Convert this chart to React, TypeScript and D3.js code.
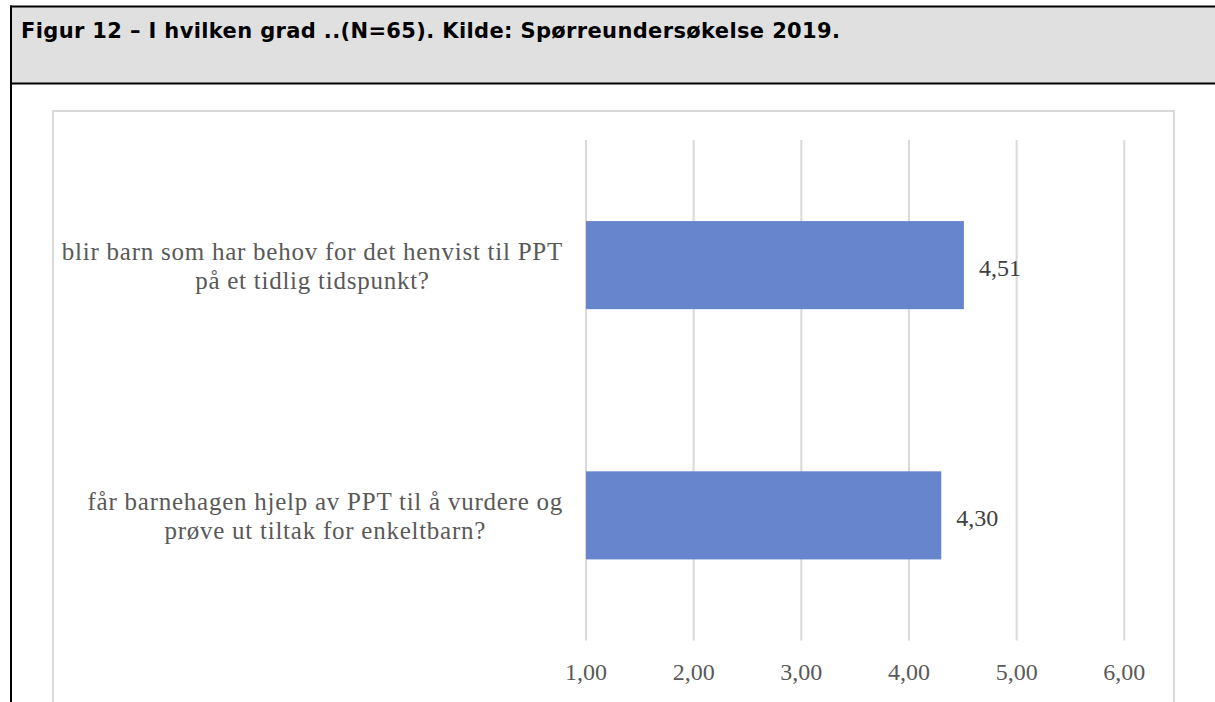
import React, { useEffect, useRef } from "react";
import * as d3 from "d3";

const TITLE = "Figur 12 – I hvilken grad ..(N=65). Kilde: Spørreundersøkelse 2019.";
const categories: string[][] = [
  ["blir barn som har behov for det henvist til PPT", "på et tidlig tidspunkt?"],
  ["får barnehagen hjelp av PPT til å vurdere og", "prøve ut tiltak for enkeltbarn?"],
];
const values: number[] = [4.51, 4.3];
const ticks: number[] = [1, 2, 3, 4, 5, 6];

const W = 1215;
const H = 702;

const fmt = (v: number) => v.toFixed(2).replace(".", ",");

export default function App() {
  const ref = useRef<SVGSVGElement | null>(null);

  useEffect(() => {
    const svg = d3.select(ref.current);
    svg.selectAll("*").remove();

    // table frame
    svg.append("rect").attr("x", 11).attr("y", 7).attr("width", W).attr("height", 76).attr("fill", "#e0e0e0");
    svg.append("line").attr("x1", 10).attr("x2", W).attr("y1", 6.5).attr("y2", 6.5).attr("stroke", "#000").attr("stroke-width", 2);
    svg.append("line").attr("x1", 10).attr("x2", W).attr("y1", 83.5).attr("y2", 83.5).attr("stroke", "#000").attr("stroke-width", 2);
    svg.append("line").attr("x1", 11).attr("x2", 11).attr("y1", 5.5).attr("y2", H).attr("stroke", "#000").attr("stroke-width", 2);

    const titleX = 21;
    const title = svg.append("text")
      .attr("x", titleX).attr("y", 38)
      .attr("font-family", "'DejaVu Sans', sans-serif")
      .attr("font-weight", "bold")
      .style("font-size", "17px")
      .attr("fill", "#000")
      .text(TITLE);
    // fit title to reference extent (ends at x ≈ 840)
    const tw = (title.node() as SVGTextElement).getComputedTextLength();
    if (tw > 0) {
      const fs = Math.min(21, (17 * (840 - titleX)) / tw);
      title.style("font-size", `${fs}px`);
      const tw2 = (title.node() as SVGTextElement).getComputedTextLength();
      const extra = (840 - titleX - tw2) / (TITLE.length - 1);
      if (extra > 0) title.attr("letter-spacing", `${extra}px`);
    }

    // chart frame
    svg.append("rect").attr("x", 53).attr("y", 111).attr("width", 1121).attr("height", 700)
      .attr("fill", "#fff").attr("stroke", "#d9d9d9").attr("stroke-width", 2);

    const plotTop = 140, plotBottom = 640.5;
    const x = d3.scaleLinear().domain([1, 6]).range([586, 1124.3]);
    const y = d3.scaleBand<number>()
      .domain(categories.map((_, i) => i))
      .range([plotTop, plotBottom])
      .paddingInner(0.648)
      .paddingOuter(0.324);

    // gridlines
    svg.append("g").selectAll("line").data(ticks).join("line")
      .attr("x1", (d) => x(d)).attr("x2", (d) => x(d))
      .attr("y1", plotTop).attr("y2", plotBottom)
      .attr("stroke", "#d9d9d9").attr("stroke-width", 2);

    // tick labels
    svg.append("g").selectAll("text").data(ticks).join("text")
      .attr("x", (d) => x(d)).attr("y", 672).attr("dy", "0.35em")
      .attr("text-anchor", "middle")
      .attr("font-family", "'Liberation Serif', serif")
      .attr("font-size", 24)
      .attr("fill", "#595959")
      .text((d) => fmt(d));

    // bars
    svg.append("g").selectAll("rect").data(values).join("rect")
      .attr("x", x(1))
      .attr("y", (_, i) => y(i)!)
      .attr("width", (d) => x(d) - x(1))
      .attr("height", y.bandwidth())
      .attr("fill", "#6685cc");

    // value labels
    svg.append("g").selectAll("text").data(values).join("text")
      .attr("x", (d) => x(d) + 15)
      .attr("y", (_, i) => y(i)! + y.bandwidth() / 2 + 2)
      .attr("dy", "0.35em")
      .attr("font-family", "'Liberation Serif', serif")
      .attr("font-size", 24)
      .attr("fill", "#404040")
      .text((d) => fmt(d));

    // category labels
    const rightEdge = 563;
    categories.forEach((lines, i) => {
      const cy = y(i)! + y.bandwidth() / 2;
      const g = svg.append("g");
      const texts = g.selectAll("text").data(lines).join("text")
        .attr("y", (_, j) => cy - 5 + j * 29)
        .attr("text-anchor", "middle")
        .attr("font-family", "'Liberation Serif', serif")
        .attr("font-size", 25)
        .attr("letter-spacing", "0.75px")
        .attr("fill", "#595959")
        .text((d) => d);
      let maxW = 0;
      texts.each(function () {
        const w = (this as SVGTextElement).getComputedTextLength();
        if (w > maxW) maxW = w;
      });
      texts.attr("x", rightEdge - maxW / 2);
    });
  }, []);

  return (
    <svg
      ref={ref}
      width={W}
      height={H}
      style={{ position: "absolute", left: 0, top: 0, background: "#fff" }}
    />
  );
}
